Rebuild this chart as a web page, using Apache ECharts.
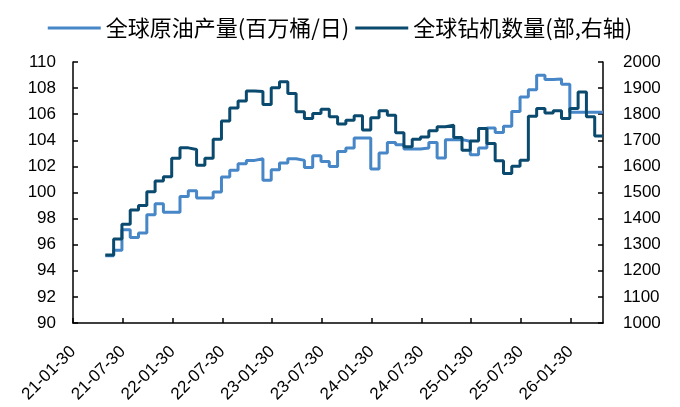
<!DOCTYPE html>
<html><head><meta charset="utf-8">
<script src="https://cdn.jsdelivr.net/npm/echarts@6/dist/echarts.min.js"></script>
<style>html,body{margin:0;padding:0;background:#fff}#c{width:680px;height:407px}</style>
</head><body><div id="c"></div>
<script>
// Monthly observations (dated near month end)
const months = [
  '2021-05','2021-06','2021-07','2021-08','2021-09','2021-10','2021-11','2021-12',
  '2022-01','2022-02','2022-03','2022-04','2022-05','2022-06','2022-07','2022-08','2022-09','2022-10','2022-11','2022-12',
  '2023-01','2023-02','2023-03','2023-04','2023-05','2023-06','2023-07','2023-08','2023-09','2023-10','2023-11','2023-12',
  '2024-01','2024-02','2024-03','2024-04','2024-05','2024-06','2024-07','2024-08','2024-09','2024-10','2024-11','2024-12',
  '2025-01','2025-02','2025-03','2025-04','2025-05','2025-06','2025-07','2025-08','2025-09','2025-10','2025-11','2025-12',
  '2026-01','2026-02','2026-03','2026-04'
];
const endMonth = '2026-05';
// 全球原油产量 (百万桶/日)
const oilProduction = [
  95.16, 95.57, 97.15, 96.56, 96.89, 98.30, 99.14, 98.48,
  98.48, 99.70, 100.14, 99.58, 99.58, 100.04, 101.19, 101.70, 102.20, 102.46, 102.59, 100.93,
  101.75, 102.26, 102.59, 102.46, 101.92, 102.82, 102.38, 102.00, 103.15, 103.41, 104.18, 104.18,
  101.80, 103.02, 103.84, 103.66, 103.33, 103.33, 103.41, 103.84, 102.64, 104.05, 104.05, 103.92,
  102.90, 103.41, 104.94, 104.60, 105.07, 106.21, 107.32, 107.88, 108.98, 108.65, 108.70, 108.29,
  106.14, 106.14, 106.14, 106.14
];
// 全球钻机数量 (部, 右轴)
const rigCount = [
  1261, 1322, 1378, 1433, 1450, 1503, 1544, 1560,
  1631, 1671, 1665, 1604, 1631, 1704, 1774, 1824, 1851, 1889, 1887, 1837,
  1901, 1924, 1879, 1809, 1784, 1803, 1819, 1790, 1762, 1777, 1794, 1739,
  1786, 1813, 1796, 1729, 1675, 1704, 1713, 1737, 1752, 1758, 1711, 1662,
  1697, 1745, 1688, 1622, 1573, 1601, 1624, 1792, 1822, 1805, 1813, 1784,
  1822, 1885, 1790, 1716
];
const xTickLabels = ['21-01-30','21-07-30','22-01-30','22-07-30','23-01-30','23-07-30',
  '24-01-30','24-07-30','25-01-30','25-07-30','26-01-30'];
const seriesNames = ['全球原油产量(百万桶/日)', '全球钻机数量(部,右轴)'];

// x = months since 2021-01-30 (observations dated ~27th)
function toX(ym) {
  const p = ym.split('-').map(Number);
  return (p[0] - 2021) * 12 + (p[1] - 1) - 0.1;
}
function build(vals) {
  const d = months.map((m, i) => [toX(m), vals[i]]);
  d.push([toX(endMonth), vals[vals.length - 1]]);
  return d;
}

const chart = echarts.init(document.getElementById('c'), null, {renderer: 'canvas'});
const axisFont = {fontFamily: 'Liberation Sans, Arial, sans-serif', fontSize: 17, color: '#000'};
const axisLine = {show: true, lineStyle: {color: '#000', width: 1.5}};
chart.setOption({
  animation: false,
  backgroundColor: '#fff',
  legend: {
    top: 12, left: 'center', icon: 'rect', itemWidth: 53, itemHeight: 3, itemGap: 6,
    textStyle: {fontFamily: 'Noto Sans CJK SC', fontSize: 22, color: '#000'},
    data: seriesNames
  },
  grid: {left: 73, right: 77, top: 62, bottom: 84, containLabel: false},
  xAxis: {
    type: 'value', min: 0, max: toX(endMonth), interval: 6,
    axisLine: axisLine, splitLine: {show: false},
    axisTick: {show: true, inside: true, length: 5, lineStyle: {color: '#000', width: 1.5}},
    axisLabel: Object.assign({}, axisFont, {
      rotate: 45, margin: 26, showMaxLabel: false,
      formatter: v => (Math.abs(v / 6 - Math.round(v / 6)) < 1e-6 ? (xTickLabels[Math.round(v / 6)] || '') : '')
    })
  },
  yAxis: [
    {type: 'value', min: 90, max: 110, interval: 2, position: 'left',
     axisLine: axisLine, splitLine: {show: false},
     axisTick: {show: true, inside: true, length: 5, lineStyle: {color: '#000', width: 1.5}},
     axisLabel: Object.assign({}, axisFont, {margin: 17, formatter: v => String(v)})},
    {type: 'value', min: 1000, max: 2000, interval: 100, position: 'right',
     axisLine: axisLine, splitLine: {show: false},
     axisTick: {show: true, inside: true, length: 5, lineStyle: {color: '#000', width: 1.5}},
     axisLabel: Object.assign({}, axisFont, {margin: 20, formatter: v => String(v)})}
  ],
  series: [
    {name: seriesNames[0], type: 'line', step: 'end', yAxisIndex: 0, showSymbol: false,
     data: build(oilProduction), color: '#4787C7', lineStyle: {width: 3, color: '#4787C7'}, z: 2},
    {name: seriesNames[1], type: 'line', step: 'end', yAxisIndex: 1, showSymbol: false,
     data: build(rigCount), color: '#0A4A6E', lineStyle: {width: 3, color: '#0A4A6E'}, z: 3}
  ]
});
</script>
</body></html>
